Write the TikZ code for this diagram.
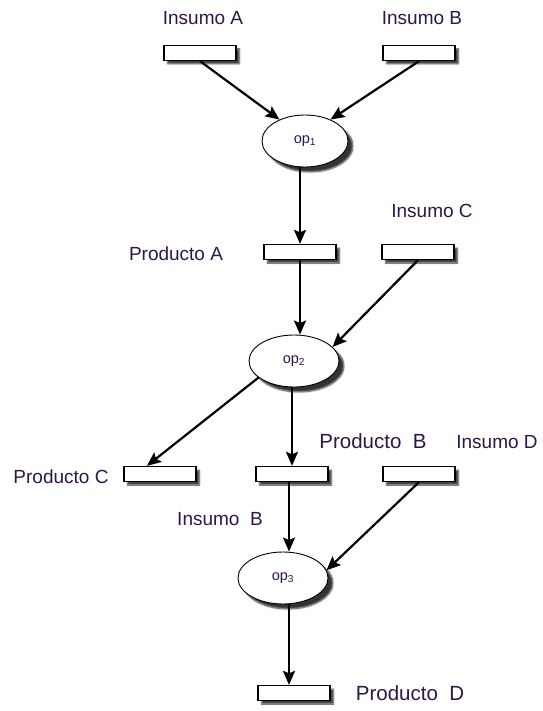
\documentclass[tikz,border=0pt]{standalone}
\usepackage{fontspec}
\setmainfont{Liberation Sans}
\usetikzlibrary{shapes.geometric,arrows.meta,shadows.blur}
\definecolor{labelcol}{RGB}{46,22,70}
\begin{document}
\begin{tikzpicture}[x=1pt,y=-1pt,
  place/.style={draw=black,line width=1.3pt,fill=white,rectangle,
    minimum width=72pt,minimum height=15pt,inner sep=0pt,
    blur shadow={shadow xshift=3.5pt,shadow yshift=-3.5pt,shadow opacity=75,
      shadow blur radius=1.5pt,shadow blur steps=6}},
  oper/.style={draw=black,line width=0.9pt,fill=white,ellipse,
    minimum width=90pt,minimum height=52pt,inner sep=0pt,
    text=labelcol,font=\fontsize{14.5}{16}\selectfont,
    blur shadow={shadow xshift=5pt,shadow yshift=-5pt,shadow opacity=80,
      shadow blur radius=1.5pt,shadow blur steps=6}},
  lbl/.style={anchor=base,text=labelcol,font=\fontsize{19}{22}\selectfont,inner sep=0pt},
  biglbl/.style={lbl,font=\fontsize{20.5}{24}\selectfont},
  flow/.style={draw=black,line width=2.2pt,-{Stealth[length=14pt,width=12pt,inset=2.5pt]}}]
\useasboundingbox (0,0) rectangle (542,711);

% places (rectangles)
\node[place] (ia) at (200,53) {};
\node[place] (ib) at (419,53) {};
\node[place] (pa) at (300,252) {};
\node[place] (ic) at (418,252) {};
\node[place] (pc) at (160,474) {};
\node[place] (pb) at (292,474) {};
\node[place] (id) at (419,474) {};
\node[place] (pd) at (294,693) {};

% operations (ellipses)
\node[oper,minimum width=86pt] (op1) at (305,141) {op\textsubscript{1}};
\node[oper] (op2) at (294,361) {op\textsubscript{2}};
\node[oper] (op3) at (283,578) {op\textsubscript{3}};

% labels
\node[lbl] (lia) at (203,25) {Insumo A};
\node[lbl] (lib) at (422,25) {Insumo B};
\node[lbl] (lic) at (432,218) {Insumo C};
\node[lbl] (lpa) at (176,260) {Producto A};
\node[lbl] (lpc) at (61,483) {Producto C};
\node[biglbl] (lpb) at (373,448) {Producto\ \ B};
\node[lbl] (lid) at (497,448) {Insumo D};
\node[lbl] (lib2) at (220,525) {Insumo\ \ B};
\node[biglbl] (lpd) at (410,700) {Producto\ \ D};

% connector end points off the node centres
\coordinate (pbout) at ([xshift=-3pt]pb.south);
\coordinate (pdin) at ([xshift=-5pt]pd.north);

% connectors
\draw[flow] (ia.south) -- (op1.140);
\draw[flow] (ib.south) -- (op1.40);
\draw[flow] (op1.south -| pa.north) -- (pa.north);
\draw[flow] (pa.south) -- (op2.north -| pa.south);
\draw[flow] (ic.south) -- (op2.20);
\draw[flow] (op2.205) -- (pc.148);
\draw[flow] (op2.south -| pb.north) -- (pb.north);
\draw[flow] (pbout) -- (op3.north -| pbout);
\draw[flow] (id.south) -- (op3.10);
\draw[flow] (op3.south -| pdin) -- (pdin);
\end{tikzpicture}
\end{document}
